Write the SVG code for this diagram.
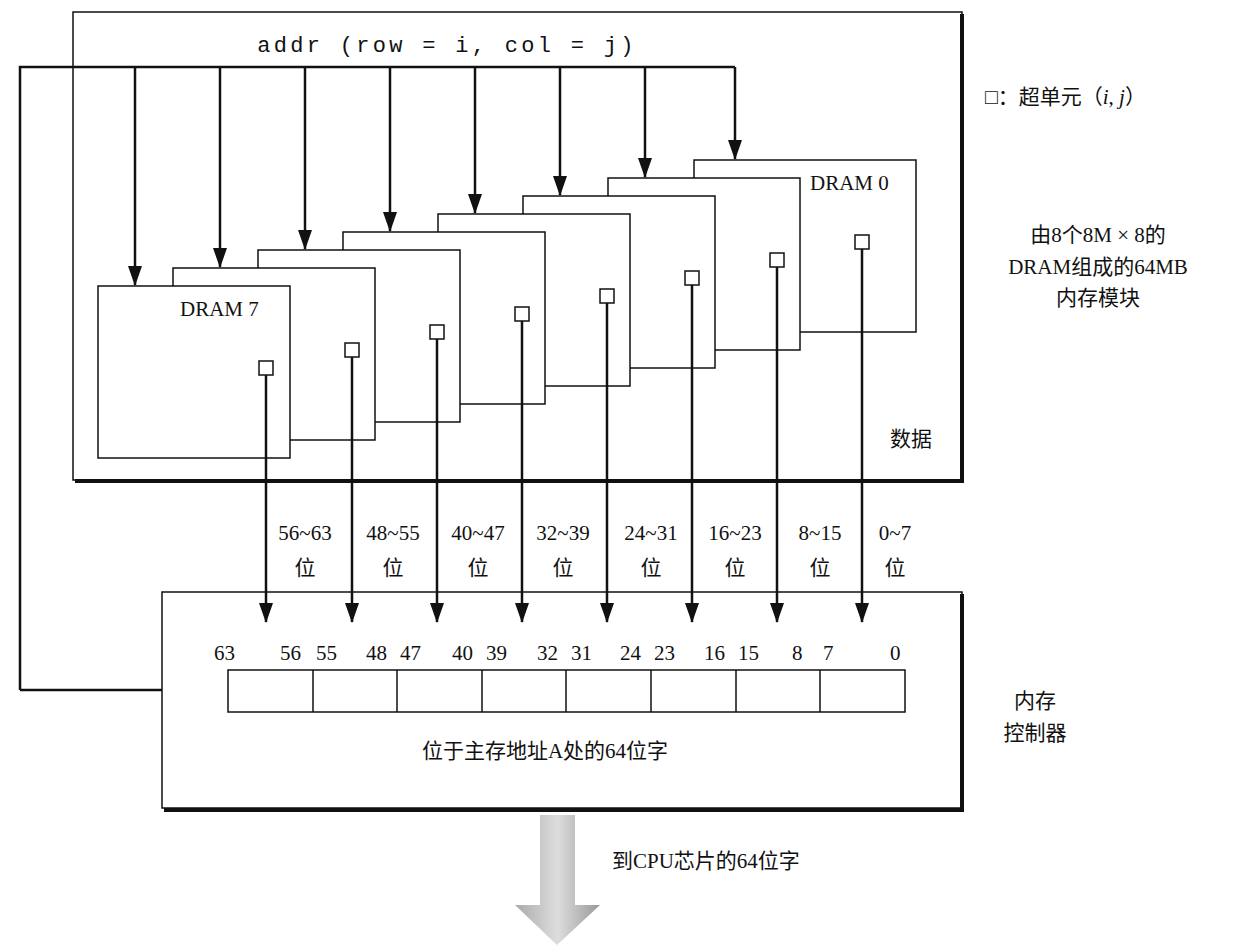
<svg xmlns="http://www.w3.org/2000/svg" width="1239" height="952" viewBox="0 0 1239 952">
<style>
.b{fill:#fff;stroke:#111;stroke-width:1.5}
.l{stroke:#111;stroke-width:2.5;fill:none}
.t{font-family:"Liberation Serif","Noto Sans CJK SC",serif;font-size:21px;fill:#111}
.m{font-family:"Liberation Mono",monospace;font-size:22px;letter-spacing:3.3px;fill:#111}
.c{text-anchor:middle}
</style>
<defs>
<marker id="a" markerWidth="20" markerHeight="14" refX="19" refY="7" orient="auto" markerUnits="userSpaceOnUse" viewBox="0 0 20 14"><path d="M0,0L20,7L0,14z" fill="#111"/></marker>
<linearGradient id="g" x1="0" x2="1"><stop offset="0" stop-color="#aaa"/><stop offset="0.5" stop-color="#ddd"/><stop offset="1" stop-color="#999"/></linearGradient>
</defs>
<rect width="1239" height="952" fill="#fff"/>
<g id="module"><rect x="73" y="12" width="889" height="468" class="b"/><path d="M962,14V481H75" stroke="#111" stroke-width="4" fill="none"/></g>
<g id="dram0"><rect x="694" y="160" width="222" height="172" class="b"/><text x="810" y="190" class="t">DRAM 0</text><rect x="855" y="235" width="14" height="14" class="b"/></g>
<g id="dram1"><rect x="608" y="178" width="192" height="172" class="b"/><rect x="770" y="253" width="14" height="14" class="b"/></g>
<g id="dram2"><rect x="523" y="196" width="192" height="172" class="b"/><rect x="685" y="271" width="14" height="14" class="b"/></g>
<g id="dram3"><rect x="438" y="214" width="192" height="172" class="b"/><rect x="600" y="289" width="14" height="14" class="b"/></g>
<g id="dram4"><rect x="343" y="232" width="202" height="172" class="b"/><rect x="515" y="307" width="14" height="14" class="b"/></g>
<g id="dram5"><rect x="258" y="250" width="202" height="172" class="b"/><rect x="430" y="325" width="14" height="14" class="b"/></g>
<g id="dram6"><rect x="173" y="268" width="202" height="172" class="b"/><rect x="345" y="343" width="14" height="14" class="b"/></g>
<g id="dram7"><rect x="98" y="286" width="192" height="172" class="b"/><text x="180" y="316" class="t">DRAM 7</text><rect x="259" y="361" width="14" height="14" class="b"/></g>
<g id="controller"><rect x="162" y="592" width="800" height="216" class="b"/><path d="M962,594V810H164" stroke="#111" stroke-width="4" fill="none"/>
<rect x="228" y="670" width="677" height="42" class="b"/>
<path d="M313,670V712M397,670V712M482,670V712M566,670V712M651,670V712M736,670V712M820,670V712" stroke="#111" stroke-width="1.5"/>
<g class="t"><text x="214" y="660">63</text><text x="280" y="660">56</text><text x="316" y="660">55</text><text x="366" y="660">48</text><text x="400" y="660">47</text><text x="452" y="660">40</text><text x="486" y="660">39</text><text x="537" y="660">32</text><text x="571" y="660">31</text><text x="620" y="660">24</text><text x="654" y="660">23</text><text x="704" y="660">16</text><text x="738" y="660">15</text><text x="792" y="660">8</text><text x="823" y="660">7</text><text x="890" y="660">0</text></g>
<text x="545" y="758" class="t c">位于主存地址A处的64位字</text></g>
<g id="connectors">
<path d="M20,690H162M20,690V67H735" class="l"/>
<g class="l" marker-end="url(#a)">
<path d="M135,67V285"/><path d="M220,67V267"/><path d="M305,67V249"/><path d="M390,67V231"/><path d="M475,67V213"/><path d="M560,67V195"/><path d="M645,67V177"/><path d="M735,67V159"/>
<path d="M266,375V622"/><path d="M352,357V622"/><path d="M437,339V622"/><path d="M522,321V622"/><path d="M607,303V622"/><path d="M692,285V622"/><path d="M777,267V622"/><path d="M862,249V622"/>
</g>
<path d="M540,815H575V905H600L557,945L515,905H540Z" fill="url(#g)"/>
</g>
<text x="447" y="52" class="m c">addr (row = i, col = j)</text>
<g class="t c"><text x="305" y="540">56~63</text><text x="305" y="575">位</text><text x="393" y="540">48~55</text><text x="393" y="575">位</text><text x="478" y="540">40~47</text><text x="478" y="575">位</text><text x="563" y="540">32~39</text><text x="563" y="575">位</text><text x="651" y="540">24~31</text><text x="651" y="575">位</text><text x="735" y="540">16~23</text><text x="735" y="575">位</text><text x="820" y="540">8~15</text><text x="820" y="575">位</text><text x="895" y="540">0~7</text><text x="895" y="575">位</text></g>
<text x="985" y="104" class="t">□：超单元（<tspan font-style="italic">i</tspan>, <tspan font-style="italic">j</tspan>）</text>
<g class="t c"><text x="1098" y="242">由8个8M × 8的</text><text x="1098" y="274">DRAM组成的64MB</text><text x="1098" y="305">内存模块</text>
<text x="1035" y="708">内存</text><text x="1035" y="740">控制器</text></g>
<text x="890" y="446" class="t">数据</text>
<text x="612" y="868" class="t">到CPU芯片的64位字</text>
</svg>
